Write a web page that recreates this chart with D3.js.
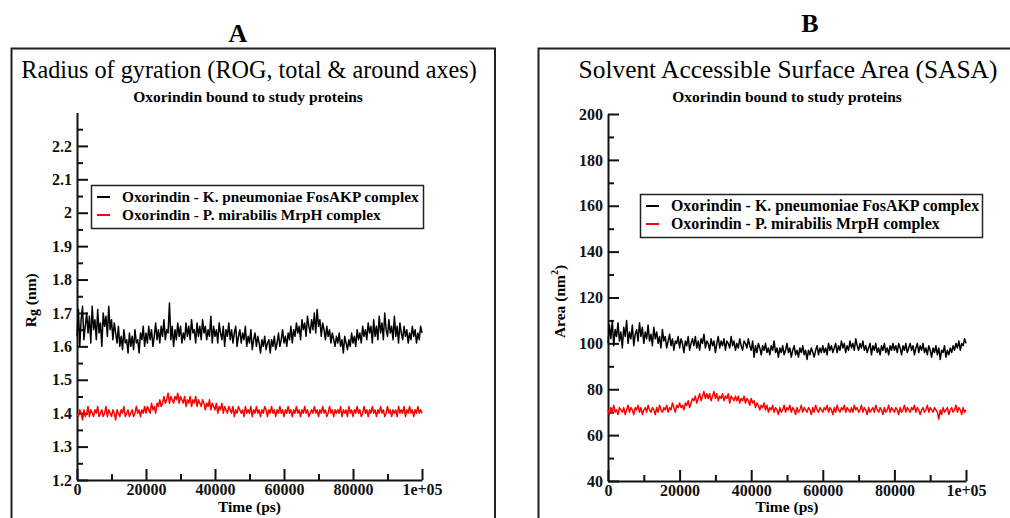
<!DOCTYPE html>
<html>
<head>
<meta charset="utf-8">
<script src="https://cdn.jsdelivr.net/npm/d3@7/dist/d3.min.js"></script>
<style>
  html, body { margin: 0; padding: 0; background: #fff; }
  svg { display: block; font-family: "Liberation Serif", "Times New Roman", serif; }
  .tick text { font-family: "Liberation Serif", "Times New Roman", serif; font-weight: bold; font-size: 16px; fill: #111; }
  .tick line { stroke: #111; stroke-width: 2; }
  .domain { stroke: #111; stroke-width: 2; fill: none; }
</style>
</head>
<body>
<svg id="chart" width="1010" height="518"></svg>
<script>
// time grid: one sample every 400 ps
const timeStep = 400;

const seriesNames = ['Oxorindin - K. pneumoniae FosAKP complex', 'Oxorindin - P. mirabilis MrpH complex'];
const seriesColors = ['#000000', '#ff0000'];

// Radius of gyration (nm)
const rgFosAKP = [
  1.63,1.71,1.60,1.68,1.72,1.62,1.66,1.70,1.64,1.69,
  1.61,1.72,1.65,1.68,1.62,1.71,1.64,1.67,1.60,1.70,
  1.66,1.69,1.63,1.72,1.65,1.68,1.62,1.67,1.64,1.61,
  1.66,1.60,1.63,1.59,1.65,1.61,1.62,1.58,1.64,1.60,
  1.63,1.59,1.65,1.61,1.62,1.58,1.64,1.62,1.66,1.60,
  1.64,1.61,1.66,1.62,1.65,1.60,1.63,1.67,1.62,1.65,
  1.61,1.66,1.63,1.68,1.62,1.65,1.64,1.73,1.62,1.66,
  1.60,1.65,1.62,1.67,1.63,1.66,1.61,1.64,1.62,1.67,
  1.63,1.66,1.62,1.68,1.64,1.65,1.61,1.67,1.63,1.66,
  1.62,1.68,1.64,1.66,1.62,1.65,1.63,1.69,1.61,1.66,
  1.63,1.65,1.61,1.67,1.64,1.62,1.66,1.60,1.65,1.63,
  1.67,1.62,1.65,1.61,1.64,1.66,1.60,1.63,1.65,1.61,
  1.64,1.62,1.66,1.60,1.63,1.61,1.65,1.59,1.62,1.64,
  1.60,1.63,1.61,1.58,1.62,1.60,1.63,1.59,1.61,1.62,
  1.58,1.62,1.60,1.63,1.59,1.61,1.64,1.60,1.62,1.65,
  1.61,1.63,1.60,1.64,1.62,1.66,1.61,1.65,1.63,1.67,
  1.64,1.66,1.62,1.68,1.65,1.67,1.63,1.69,1.66,1.64,
  1.68,1.65,1.70,1.64,1.71,1.66,1.68,1.63,1.67,1.65,
  1.62,1.66,1.63,1.65,1.61,1.64,1.62,1.60,1.63,1.61,
  1.64,1.60,1.62,1.58,1.63,1.61,1.59,1.62,1.60,1.64,
  1.61,1.63,1.60,1.65,1.62,1.64,1.61,1.66,1.63,1.65,
  1.62,1.67,1.64,1.66,1.61,1.68,1.63,1.66,1.62,1.69,
  1.64,1.67,1.62,1.70,1.65,1.63,1.68,1.64,1.66,1.62,
  1.69,1.63,1.66,1.61,1.67,1.64,1.62,1.66,1.63,1.65,
  1.61,1.64,1.62,1.66,1.63,1.65,1.61,1.64,1.62,1.66,
  1.64
];
const rgMrpH = [
  1.40,1.39,1.41,1.40,1.38,1.41,1.39,1.40,1.42,1.39,
  1.41,1.40,1.39,1.41,1.40,1.42,1.39,1.40,1.41,1.39,
  1.40,1.42,1.39,1.41,1.40,1.39,1.41,1.40,1.38,1.41,
  1.40,1.39,1.41,1.40,1.42,1.39,1.40,1.41,1.39,1.40,
  1.41,1.39,1.40,1.42,1.40,1.41,1.39,1.41,1.40,1.42,
  1.40,1.42,1.41,1.40,1.43,1.41,1.42,1.40,1.43,1.42,
  1.44,1.42,1.43,1.45,1.43,1.44,1.46,1.43,1.45,1.44,
  1.43,1.45,1.44,1.46,1.43,1.45,1.44,1.43,1.45,1.42,
  1.44,1.43,1.45,1.42,1.44,1.43,1.45,1.42,1.44,1.43,
  1.42,1.44,1.43,1.41,1.43,1.42,1.44,1.41,1.43,1.42,
  1.41,1.43,1.40,1.42,1.41,1.43,1.40,1.42,1.41,1.40,
  1.42,1.41,1.40,1.42,1.39,1.41,1.40,1.42,1.41,1.40,
  1.41,1.39,1.42,1.40,1.41,1.40,1.42,1.39,1.41,1.40,
  1.42,1.40,1.41,1.39,1.41,1.40,1.42,1.41,1.39,1.41,
  1.40,1.42,1.40,1.41,1.39,1.41,1.40,1.42,1.40,1.41,
  1.39,1.41,1.40,1.42,1.40,1.41,1.39,1.41,1.40,1.42,
  1.40,1.41,1.39,1.41,1.40,1.42,1.40,1.41,1.39,1.40,
  1.41,1.40,1.42,1.40,1.41,1.39,1.41,1.40,1.42,1.40,
  1.41,1.39,1.40,1.42,1.40,1.41,1.39,1.41,1.40,1.41,
  1.40,1.42,1.39,1.41,1.40,1.41,1.39,1.42,1.40,1.41,
  1.39,1.41,1.40,1.42,1.40,1.41,1.39,1.40,1.42,1.40,
  1.41,1.39,1.41,1.40,1.42,1.40,1.41,1.39,1.41,1.40,
  1.42,1.40,1.41,1.39,1.40,1.42,1.40,1.41,1.39,1.41,
  1.40,1.41,1.39,1.42,1.40,1.41,1.40,1.42,1.39,1.41,
  1.40,1.42,1.40,1.41,1.39,1.41,1.40,1.42,1.40,1.41,
  1.40
];

// SASA (nm^2)
const sasaFosAKP = [
  100,108,102,110,99,106,103,109,101,105,
  98,107,103,110,100,105,102,108,99,104,
  106,101,109,103,107,100,105,102,108,101,
  104,99,107,102,105,100,103,98,106,101,
  103,98,101,104,99,102,97,101,100,103,
  98,102,100,96,101,99,103,97,100,102,
  99,103,98,101,97,102,100,104,98,101,
  100,97,102,99,101,96,100,103,98,101,
  99,102,97,101,100,98,103,99,101,97,
  100,98,102,99,97,101,100,98,102,99,
  97,101,94,99,96,100,98,95,99,97,
  100,96,98,95,99,97,101,96,98,94,
  98,96,99,95,97,100,96,98,94,97,
  99,95,97,94,98,96,99,95,97,93,
  97,95,98,96,94,97,99,95,98,96,
  99,96,98,95,100,97,99,96,98,100,
  96,99,97,101,98,100,96,99,97,101,
  98,100,97,102,99,97,100,98,101,97,
  99,96,98,100,95,99,97,100,96,98,
  95,99,97,100,96,98,95,99,97,100,
  97,99,96,100,98,95,99,97,100,96,
  98,100,97,99,95,98,100,96,99,97,
  100,96,98,95,99,97,94,98,96,99,
  95,98,93,97,96,99,94,97,95,98,
  96,99,97,100,98,101,97,100,99,102,
  100
];
const sasaMrpH = [
  71,69,72,70,73,70,71,69,72,71,
  70,72,69,71,73,70,72,71,69,72,
  71,73,70,72,69,71,72,70,73,71,
  70,72,71,69,72,70,73,71,70,72,
  71,73,70,72,71,74,72,70,73,72,
  74,72,73,71,74,73,75,72,74,76,
  75,77,74,76,78,75,77,79,76,78,
  76,78,75,77,79,76,78,75,77,76,
  78,75,77,76,78,74,77,76,75,77,
  75,77,74,76,75,77,74,76,75,73,
  76,74,75,72,74,73,71,73,72,74,
  71,73,70,72,71,73,70,72,71,69,
  72,70,71,73,70,72,71,73,70,72,
  71,69,72,70,71,73,70,72,71,70,
  72,71,69,72,70,73,71,70,72,71,
  70,72,71,73,70,72,71,69,72,70,
  73,71,70,72,71,73,70,72,71,70,
  72,70,73,71,72,70,71,73,70,72,
  71,69,72,70,71,72,70,73,71,70,
  72,71,69,72,70,71,73,70,72,71,
  70,72,71,69,72,70,71,73,70,72,
  71,70,72,71,73,70,72,71,69,71,
  72,70,71,73,70,72,71,70,72,71,
  70,67,71,69,72,70,71,72,69,71,
  72,70,71,73,70,72,71,69,72,70,
  71
];

const xMajor = [0, 20000, 40000, 60000, 80000, 100000];
const xMajorLabels = ['0', '20000', '40000', '60000', '80000', '1e+05'];
const xMinor = [10000, 30000, 50000, 70000, 90000];
const rgMajor = [1.2, 1.3, 1.4, 1.5, 1.6, 1.7, 1.8, 1.9, 2.0, 2.1, 2.2];
const rgMinor = [1.25, 1.35, 1.45, 1.55, 1.65, 1.75, 1.85, 1.95, 2.05, 2.15, 2.25];
const sasaMajor = [40, 60, 80, 100, 120, 140, 160, 180, 200];
const sasaMinor = [50, 70, 90, 110, 130, 150, 170, 190];

const panels = [
  {
    letter: 'A', letterX: 238, letterY: 42,
    frame: [11.5, 48.5, 495, 530],
    title: 'Radius of gyration (ROG, total & around axes)', titleX: 249, titleSize: 24.2,
    sub: 'Oxorindin bound to study proteins', subX: 248,
    px: [77, 422], py: [480, 112.5],
    yDomain: [1.2, 2.3], yMajor: rgMajor, yMinor: rgMinor,
    yFmt: (d) => String(+d.toFixed(1)),
    series: [rgFosAKP, rgMrpH],
    legend: [91, 185, 332, 43], legendSize: 15.3,
    ylabX: 36, ylab: 'rg'
  },
  {
    letter: 'B', letterX: 810, letterY: 32,
    frame: [538.5, 48.5, 1015, 530],
    title: 'Solvent Accessible Surface Area (SASA)', titleX: 788, titleSize: 25.4,
    sub: 'Oxorindin bound to study proteins', subX: 787,
    px: [608, 966], py: [481, 114],
    yDomain: [40, 200], yMajor: sasaMajor, yMinor: sasaMinor,
    yFmt: (d) => String(d),
    series: [sasaFosAKP, sasaMrpH],
    legend: [640, 194, 342, 43], legendSize: 15.9,
    ylabX: 565, ylab: 'area'
  }
];

const svg = d3.select('#chart');

panels.forEach((p) => {
  const g = svg.append('g');
  const [fx, fy, fr, fb] = p.frame;
  g.append('path')
    .attr('d', `M${fx},${fb}V${fy}H${fr}V${fb}`)
    .attr('fill', 'none').attr('stroke', '#222').attr('stroke-width', 2);

  g.append('text').attr('x', p.letterX).attr('y', p.letterY)
    .attr('text-anchor', 'middle').attr('font-size', 26).attr('font-weight', 'bold')
    .text(p.letter);
  g.append('text').attr('x', p.titleX).attr('y', 78)
    .attr('text-anchor', 'middle').attr('font-size', p.titleSize)
    .text(p.title);
  g.append('text').attr('x', p.subX).attr('y', 102)
    .attr('text-anchor', 'middle').attr('font-size', 15.5).attr('font-weight', 'bold')
    .text(p.sub);

  const x = d3.scaleLinear().domain([0, 100000]).range(p.px);
  const y = d3.scaleLinear().domain(p.yDomain).range(p.py);

  // minor ticks
  g.append('g').attr('transform', `translate(0,${p.py[0]})`)
    .call(d3.axisBottom(x).tickValues(xMinor).tickSize(-6).tickFormat(''))
    .call((s) => s.select('.domain').remove());
  g.append('g').attr('transform', `translate(${p.px[0]},0)`)
    .call(d3.axisLeft(y).tickValues(p.yMinor).tickSize(-6).tickFormat(''))
    .call((s) => s.select('.domain').remove());

  // major ticks
  g.append('g').attr('transform', `translate(0,${p.py[0]})`)
    .call(d3.axisBottom(x).tickValues(xMajor).tickSizeInner(-11).tickSizeOuter(0).tickPadding(4)
      .tickFormat((d, i) => xMajorLabels[i]));
  g.append('g').attr('transform', `translate(${p.px[0]},0)`)
    .call(d3.axisLeft(y).tickValues(p.yMajor).tickSizeInner(-11).tickSizeOuter(0).tickPadding(5)
      .tickFormat(p.yFmt));

  // axis labels
  g.append('text').attr('x', (p.px[0] + p.px[1]) / 2).attr('y', 512)
    .attr('text-anchor', 'middle').attr('font-size', 15.5).attr('font-weight', 'bold')
    .text('Time (ps)');
  const yl = g.append('text')
    .attr('transform', `translate(${p.ylabX},${(p.py[0] + p.py[1]) / 2 + 4}) rotate(-90)`)
    .attr('text-anchor', 'middle').attr('font-size', 15.5).attr('font-weight', 'bold');
  if (p.ylab === 'rg') {
    yl.append('tspan').text('R');
    yl.append('tspan').attr('font-size', 14).attr('dy', 2).text('g');
    yl.append('tspan').attr('dy', -2).text(' (nm)');
  } else {
    yl.append('tspan').text('Area (nm');
    yl.append('tspan').attr('font-size', 10).attr('dy', -7).text('2');
    yl.append('tspan').attr('dy', 7).text(')');
  }

  // series
  const line = d3.line().x((d, i) => x(i * timeStep)).y((d) => y(d));
  p.series.forEach((vals, si) => {
    g.append('path').datum(vals)
      .attr('d', line)
      .attr('fill', 'none')
      .attr('stroke', seriesColors[si])
      .attr('stroke-width', 1.5)
      .attr('stroke-linejoin', 'round');
  });

  // legend
  const [lx, ly, lw, lh] = p.legend;
  const lg = g.append('g');
  lg.append('rect').attr('x', lx + 0.5).attr('y', ly + 0.5).attr('width', lw).attr('height', lh)
    .attr('fill', '#fff').attr('stroke', '#222').attr('stroke-width', 1.5);
  seriesNames.forEach((name, i) => {
    const cy = ly + 12 + i * 18;
    lg.append('line').attr('x1', lx + 6).attr('x2', lx + 19).attr('y1', cy).attr('y2', cy)
      .attr('stroke', seriesColors[i]).attr('stroke-width', 2);
    lg.append('text').attr('x', lx + 31).attr('y', cy + 5)
      .attr('font-size', p.legendSize).attr('font-weight', 'bold').text(name);
  });
});
</script>
</body>
</html>
